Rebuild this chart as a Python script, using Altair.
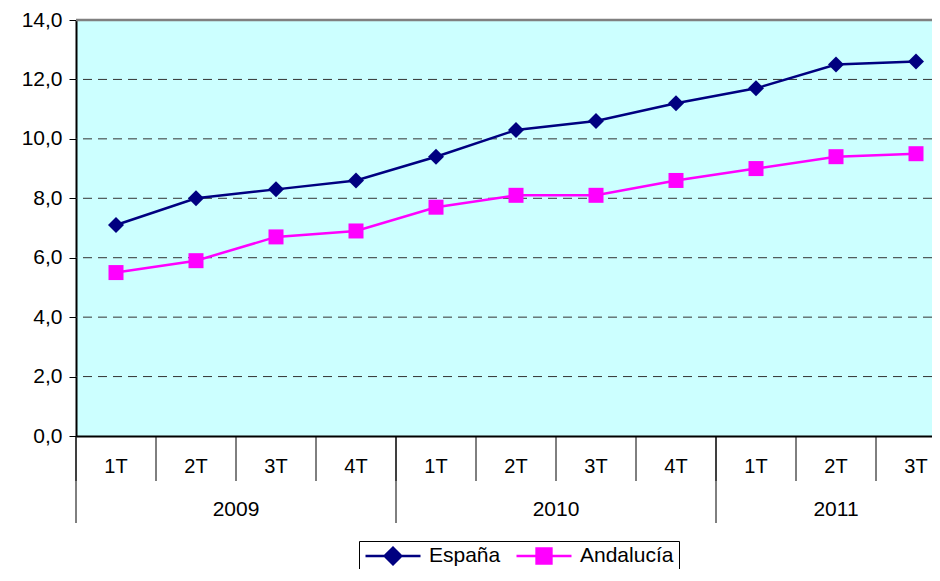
import altair as alt
import pandas as pd

# ---------------- data ----------------
quarters = ["1T", "2T", "3T", "4T", "1T", "2T", "3T", "4T", "1T", "2T", "3T"]
years = ["2009", "2010", "2011"]
year_quarter_counts = [4, 4, 3]
espana = [7.1, 8.0, 8.3, 8.6, 9.4, 10.3, 10.6, 11.2, 11.7, 12.5, 12.6]
andalucia = [5.5, 5.9, 6.7, 6.9, 7.7, 8.1, 8.1, 8.6, 9.0, 9.4, 9.5]
series_names = ["España", "Andalucía"]
series_colors = ["#000080", "#FF00FF"]
y_ticks = [0, 2, 4, 6, 8, 10, 12, 14]
grid_values = [2, 4, 6, 8, 10, 12]

FONT = "Liberation Sans"
W, H = 856, 416

rows = []
for i, v in enumerate(espana):
    rows.append({"pos": i + 0.5, "valor": v, "serie": series_names[0]})
for i, v in enumerate(andalucia):
    rows.append({"pos": i + 0.5, "valor": v, "serie": series_names[1]})
df = pd.DataFrame(rows)

qdf = pd.DataFrame({"pos": [i + 0.5 for i in range(len(quarters))],
                    "sep": list(range(len(quarters))),
                    "label": quarters})
starts, mids = [], []
s = 0
for n in year_quarter_counts:
    starts.append(s)
    mids.append(s + n / 2)
    s += n
ydf = pd.DataFrame({"start": starts, "mid": mids, "label": years})
gdf = pd.DataFrame({"g": grid_values})
tdf = pd.DataFrame({"top": [y_ticks[-1]]})

xscale = alt.Scale(domain=[0, W / 80.0], nice=False, zero=False)
yscale = alt.Scale(domain=[0, 14], nice=False)
xaxis = alt.Axis(labels=False, ticks=False, grid=False, domainColor="black",
                 domainWidth=2, title=None)
yaxis = alt.Axis(values=y_ticks,
                 labelExpr="replace(format(datum.value, '.1f'), '.', ',')",
                 grid=False, domainColor="black", domainWidth=2,
                 tickColor="black", tickSize=7, labelPadding=7,
                 labelFont=FONT, labelFontSize=21, labelColor="black",
                 title=None)

X = lambda f: alt.X(f, type="quantitative", scale=xscale, axis=xaxis)
Y = lambda f: alt.Y(f, type="quantitative", scale=yscale, axis=yaxis)

grid = alt.Chart(gdf).mark_rule(color="#333333", strokeDash=[9, 6], strokeWidth=1).encode(
    y=Y("g")
)
top_border = alt.Chart(tdf).mark_rule(color="#808080", strokeWidth=2.5).encode(
    y=Y("top")
)

qsep = alt.Chart(qdf).mark_rule(color="black", strokeWidth=1).encode(
    x=X("sep"), y=alt.value(H), y2=alt.value(H + 45)
)
ysep = alt.Chart(ydf).mark_rule(color="black", strokeWidth=1).encode(
    x=X("start"), y=alt.value(H), y2=alt.value(H + 87)
)
qlab = alt.Chart(qdf).mark_text(font=FONT, fontSize=20, color="black",
                                baseline="middle", align="center").encode(
    x=X("pos"), y=alt.value(H + 31), text="label:N"
)
ylab = alt.Chart(ydf).mark_text(font=FONT, fontSize=21, color="black",
                                baseline="middle", align="center").encode(
    x=X("mid"), y=alt.value(H + 73.5), text="label:N"
)

color = alt.Color("serie:N", scale=alt.Scale(domain=series_names, range=series_colors),
                  legend=None)
lines = alt.Chart(df).mark_line(strokeWidth=2.5).encode(
    x=X("pos"), y=Y("valor"), color=color, detail="serie:N"
)
points = alt.Chart(df).mark_point(filled=True, opacity=1).encode(
    x=X("pos"), y=Y("valor"), color=color,
    shape=alt.Shape("serie:N", scale=alt.Scale(domain=series_names, range=["diamond", "square"]),
                    legend=None),
    size=alt.Size("serie:N", scale=alt.Scale(domain=series_names, range=[256, 225]),
                  legend=None),
)

legend_paths = [
    "M-1,0H1M-0.3,0L0,-0.3L0.3,0L0,0.3Z",
    "M-1,0H1M-0.27,-0.27H0.27V0.27H-0.27Z",
]
leg = alt.Legend(title=None, orient="none", legendX=283, legendY=521,
                 direction="horizontal", symbolSize=55 * 55, symbolStrokeWidth=2.5,
                 clipHeight=20, labelFont=FONT, labelFontSize=21, labelColor="black",
                 labelOffset=7, columnPadding=14, padding=5,
                 strokeColor="black", fillColor="white", symbolOpacity=1)
legend_layer = alt.Chart(df).transform_filter("datum.serie == 'ninguna'").mark_point(
    filled=True, opacity=1).encode(
    x=X("pos"), y=Y("valor"),
    fill=alt.Fill("serie:N", scale=alt.Scale(domain=series_names, range=series_colors), legend=leg),
    stroke=alt.Stroke("serie:N", scale=alt.Scale(domain=series_names, range=series_colors), legend=leg),
    shape=alt.Shape("serie:N", scale=alt.Scale(domain=series_names, range=legend_paths), legend=leg),
)

chart = alt.layer(grid, top_border, qsep, ysep, qlab, ylab, lines, points, legend_layer).resolve_scale(
    shape="independent", fill="independent", stroke="independent"
).properties(
    width=W, height=H,
    autosize=alt.AutoSizeParams(type="none"),
    padding={"left": 68, "top": 12, "right": 0, "bottom": 133},
).configure_view(
    fill="#CCFFFF", stroke=None
)

chart.save("out.html", embed_options={"renderer": "svg", "actions": False})
